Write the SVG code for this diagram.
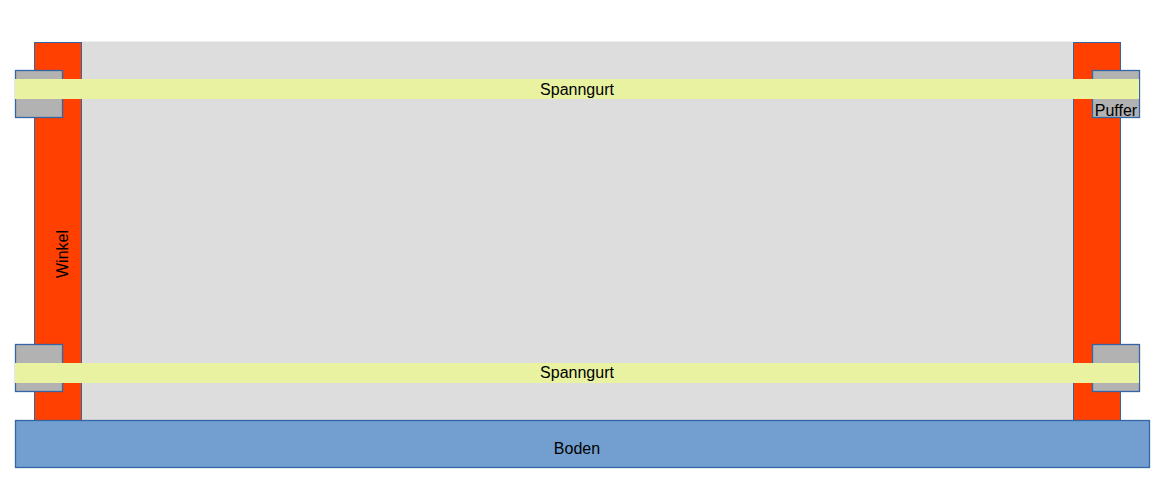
<svg xmlns="http://www.w3.org/2000/svg" width="1168" height="502" viewBox="0 0 1168 502">
<style>
.bg{fill:#dddddd;}
.winkel{fill:#ff4000;stroke:#3465a4;stroke-width:1;}
.puffer{fill:#b2b2b2;stroke:#3465a4;stroke-width:1.3;}
.gurt{fill:#e8f2a1;}
.boden{fill:#729fcf;stroke:#3465a4;stroke-width:1.3;}
text{font-family:"Liberation Sans",Arial,sans-serif;font-size:16px;fill:#000;}
</style>
<rect width="1168" height="502" fill="#ffffff"/>
<g id="ladung"><rect class="bg" x="81" y="41.5" width="992" height="379"/></g>
<g id="winkel-links"><rect class="winkel" x="34.5" y="42.5" width="47" height="425"/>
<text transform="translate(68,254) rotate(-90)" text-anchor="middle">Winkel</text></g>
<g id="winkel-rechts"><rect class="winkel" x="1073.5" y="42.5" width="47" height="425"/></g>
<g id="puffer-lo"><rect class="puffer" x="15.5" y="70.5" width="47" height="47"/></g>
<g id="puffer-lu"><rect class="puffer" x="15.5" y="344.5" width="47" height="47"/></g>
<g id="puffer-ro"><rect class="puffer" x="1092.5" y="70.5" width="47" height="47"/>
<text x="1116" y="116" text-anchor="middle">Puffer</text></g>
<g id="puffer-ru"><rect class="puffer" x="1092.5" y="344.5" width="47" height="47"/></g>
<g id="gurt-oben"><rect class="gurt" x="15" y="79" width="1124" height="20"/>
<text x="577" y="95" text-anchor="middle">Spanngurt</text></g>
<g id="gurt-unten"><rect class="gurt" x="15" y="363" width="1124" height="20"/>
<text x="577" y="378" text-anchor="middle">Spanngurt</text></g>
<g id="boden"><rect class="boden" x="15.5" y="420.5" width="1134" height="47"/>
<text x="577" y="454" text-anchor="middle">Boden</text></g>
<g id="connectors"></g>
</svg>
